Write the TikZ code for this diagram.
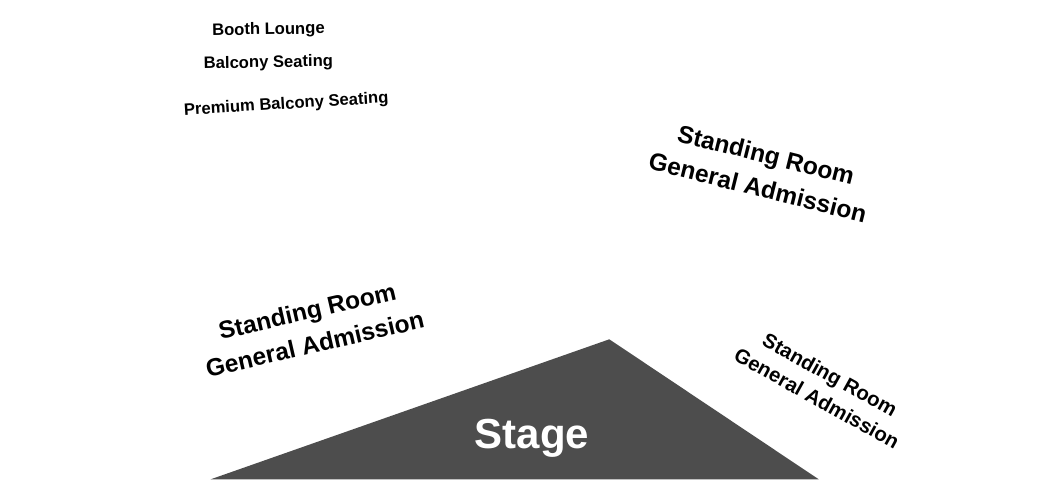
\documentclass[tikz,border=0pt]{standalone}
\usepackage{fontspec}
\setmainfont{Liberation Sans}
\definecolor{stagegray}{HTML}{4D4D4D}
\begin{document}
\begin{tikzpicture}[x=1pt,y=-1pt,
  small/.style={font=\bfseries\fontsize{16.6}{20}\selectfont, inner sep=0pt, anchor=base},
  big/.style={font=\bfseries\fontsize{24.5}{34}\selectfont, inner sep=0pt, align=center},
  mid/.style={font=\bfseries\fontsize{20.3}{27}\selectfont, inner sep=0pt, align=center},
  stagetext/.style={font=\bfseries\fontsize{42}{50}\selectfont, text=white, inner sep=0pt, anchor=base}]
\useasboundingbox (0,0) rectangle (1050,490);
\fill[white] (0,0) rectangle (1050,490);
\coordinate (sl) at (210.7,479.3);
\coordinate (st) at (609.3,339.3);
\coordinate (sr) at (818.7,479.3);
\fill[stagegray] (sl) -- (st) -- (sr) -- cycle;
\node[stagetext] (stage) at (532,448) {Stage};
\node[small, rotate=1] (booth) at (268.5,34.5) {Booth Lounge};
\node[small, rotate=1] (balcony) at (268.5,67.5) {Balcony Seating};
\node[small, rotate=3.5] (premium) at (286.5,109) {Premium Balcony Seating};
\node[big, rotate=-14] (srA) at (762,171) {Standing Room\\General Admission};
\node[big, rotate=13] (srB) at (311,327.5) {Standing Room\\General Admission};
\node[mid, rotate=-29] (srC) at (823.5,386.5) {Standing Room\\General Admission};
\end{tikzpicture}
\end{document}
